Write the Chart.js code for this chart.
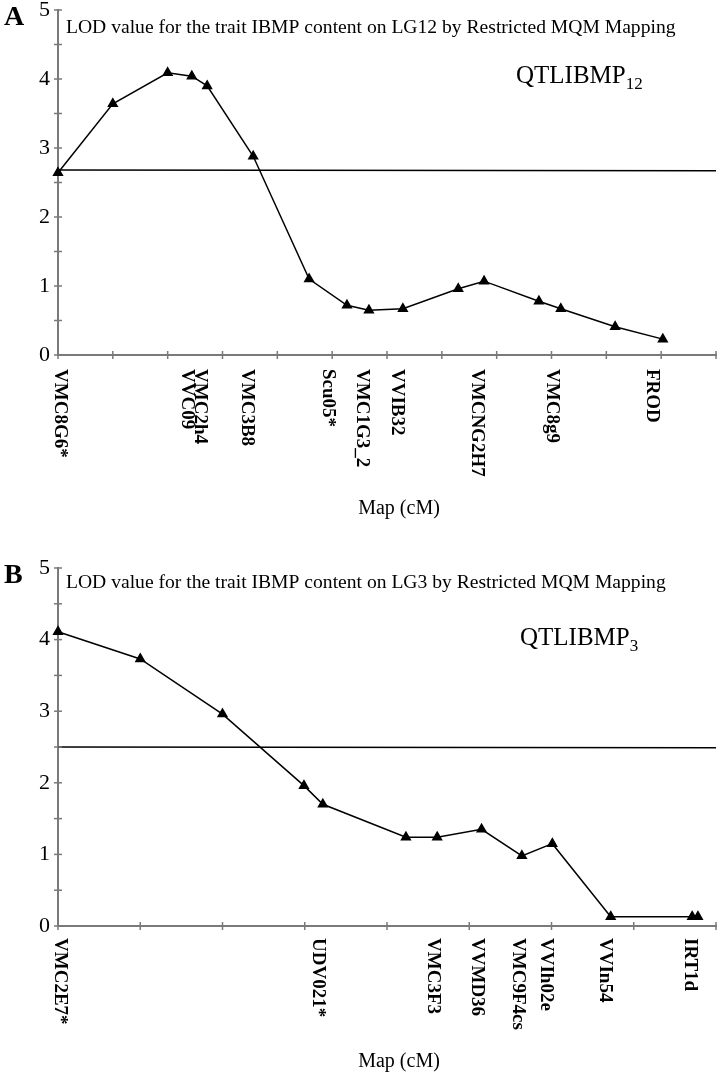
<!DOCTYPE html>
<html><head><meta charset="utf-8">
<script src="https://cdn.jsdelivr.net/npm/chart.js@4.4.0/dist/chart.umd.min.js"></script>
<style>
body{margin:0;background:#fff;width:717px;height:1074px;overflow:hidden;position:relative}
.p{position:absolute;left:0;width:717px}
</style></head><body>
<div class="p" style="top:-20px;height:550px"><canvas id="cA"></canvas></div>
<div class="p" style="top:540px;height:534px"><canvas id="cB"></canvas></div>
<script>
// ---- Panel A data (LG12) ----
const posA = [0, 1.0, 2.0, 2.44, 2.72, 3.56, 4.58, 5.27, 5.67, 6.29, 7.30, 7.77, 8.77, 9.17, 10.16, 11.03];
const lodA = [2.64, 3.64, 4.09, 4.04, 3.90, 2.88, 1.10, 0.72, 0.65, 0.67, 0.96, 1.07, 0.78, 0.67, 0.41, 0.23];
const thresholdA = [2.68, 2.67];
const markerNamesA = [["VMC8G6*"], ["VMC2h4", "VVC09"], ["VMC3B8"], ["Scu05*"], ["VMC1G3_2"], ["VVIB32"], ["VMCNG2H7"], ["VMC8g9"], ["FROD"]];
const markerPosA = [0.04, 2.47, 3.45, 4.92, 5.54, 6.18, 7.64, 9.01, 10.83];
const xMaxA = 12;

// ---- Panel B data (LG3) ----
const posB = [0, 1.0, 2.0, 2.99, 3.22, 4.23, 4.61, 5.15, 5.64, 6.01, 6.72, 7.71, 7.78];
const lodB = [4.11, 3.73, 2.96, 1.96, 1.70, 1.24, 1.24, 1.35, 0.98, 1.15, 0.13, 0.13, 0.13];
const thresholdB = [2.50, 2.49];
const markerNamesB = [["VMC2E7*"], ["UDV021*"], ["VMC3F3"], ["VVMD36"], ["VMC9F4cs"], ["VVIh02e"], ["VVIn54"], ["IRT1d"]];
const markerPosB = [0.02, 3.16, 4.56, 5.09, 5.59, 5.93, 6.65, 7.68];
const xMaxB = 8;

const yTicks = [0, 1, 2, 3, 4, 5];
const SERIF = "'Liberation Serif', 'Times New Roman', serif";
const AXIS = '#7a7a7a';

const crossTicks = {
  id: 'crossTicks',
  afterDraw(chart) {
    const ctx = chart.ctx, a = chart.chartArea;
    const xs = chart.scales.x, ys = chart.scales.y;
    ctx.save();
    ctx.strokeStyle = AXIS; ctx.lineWidth = 1.5;
    xs.ticks.forEach(t => {
      const px = xs.getPixelForValue(t.value);
      ctx.beginPath(); ctx.moveTo(px, a.bottom - 4); ctx.lineTo(px, a.bottom + 4); ctx.stroke();
    });
    ys.ticks.forEach(t => {
      const py = ys.getPixelForValue(t.value);
      ctx.beginPath(); ctx.moveTo(a.left - 4, py); ctx.lineTo(a.left + 4, py); ctx.stroke();
    });
    ctx.restore();
  }
};

const annot = {
  id: 'annot',
  afterDraw(chart, args, o) {
    const ctx = chart.ctx, a = chart.chartArea, xs = chart.scales.x;
    ctx.save();
    ctx.fillStyle = '#000';
    // marker names (rotated clockwise)
    ctx.font = 'bold 19px ' + SERIF;
    ctx.textAlign = 'left'; ctx.textBaseline = 'middle';
    o.names.forEach((lines, i) => {
      const px = xs.getPixelForValue(o.pos[i]);
      const n = lines.length, lh = 13;
      lines.forEach((s, j) => {
        const off = (j - (n - 1) / 2) * lh;
        ctx.save();
        ctx.translate(px - off, a.bottom + o.labelGap);
        ctx.rotate(Math.PI / 2);
        ctx.fillText(s, 0, 0);
        ctx.restore();
      });
    });
    ctx.textBaseline = 'alphabetic';
    // panel letter
    ctx.font = 'bold 28px ' + SERIF;
    ctx.fillText(o.letter, 4, o.letterY);
    // title
    ctx.font = '19.6px ' + SERIF;
    ctx.fillText(o.title, 66, o.titleY);
    // QTL name with subscript
    ctx.font = '25px ' + SERIF;
    ctx.fillText(o.qtl, o.qtlX, o.qtlY);
    const w = ctx.measureText(o.qtl).width;
    ctx.font = '17px ' + SERIF;
    ctx.fillText(o.qtlSub, o.qtlX + w, o.qtlY + 6);
    // axis title
    ctx.font = '20px ' + SERIF;
    ctx.textAlign = 'center';
    ctx.fillText('Map (cM)', 399, o.mapY);
    ctx.restore();
  }
};

function makeChart(id, pos, lod, thr, xMax, H, bottom, top, ann) {
  return new Chart(document.getElementById(id), {
    type: 'line',
    data: {
      datasets: [
        { data: pos.map((x, i) => ({ x, y: lod[i] })), borderColor: '#000', borderWidth: 1.5,
          pointStyle: 'triangle', pointRadius: 5, pointBackgroundColor: '#000', pointBorderColor: '#000',
          tension: 0, clip: false },
        { data: [{ x: 0, y: thr[0] }, { x: xMax, y: thr[1] }], borderColor: '#000', borderWidth: 1.5,
          pointRadius: 0, tension: 0, clip: false }
      ]
    },
    options: {
      responsive: true, maintainAspectRatio: false, animation: false,
      layout: { autoPadding: false, padding: { top: top, right: 1, left: 0, bottom: 0 } },
      plugins: { legend: { display: false }, tooltip: { enabled: false }, annot: ann },
      scales: {
        x: { type: 'linear', min: 0, max: xMax,
          ticks: { stepSize: 1, display: false },
          grid: { display: false, drawTicks: false },
          border: { display: true, color: AXIS, width: 2 },
          afterFit: s => { s.height = H - bottom; } },
        y: { min: 0, max: 5,
          afterBuildTicks: s => { const t = []; for (let v = 0; v <= 5; v += 0.5) t.push({ value: v }); s.ticks = t; },
          ticks: { padding: 8, color: '#000', font: { family: SERIF, size: 22, lineHeight: 1 },
            callback: v => yTicks.includes(v) ? String(v) : '' },
          grid: { display: false, drawTicks: false },
          border: { display: true, color: AXIS, width: 2 },
          afterFit: s => { s.width = 58; } }
      }
    },
    plugins: [crossTicks, annot]
  });
}

// Panel A canvas is shifted up 20px on the page, so its local coordinates are page + 20
makeChart('cA', posA, lodA, thresholdA, xMaxA, 550, 375, 30, {
  names: markerNamesA, pos: markerPosA, labelGap: 14, letter: 'A', letterY: 45,
  title: 'LOD value for the trait IBMP content on LG12 by Restricted MQM Mapping', titleY: 53,
  qtl: 'QTLIBMP', qtlSub: '12', qtlX: 516, qtlY: 103, mapY: 534 });

makeChart('cB', posB, lodB, thresholdB, xMaxB, 534, 386, 28, {
  names: markerNamesB, pos: markerPosB, labelGap: 12, letter: 'B', letterY: 43,
  title: 'LOD value for the trait IBMP content on LG3 by Restricted MQM Mapping', titleY: 48,
  qtl: 'QTLIBMP', qtlSub: '3', qtlX: 520, qtlY: 105, mapY: 527 });
</script>
</body></html>
